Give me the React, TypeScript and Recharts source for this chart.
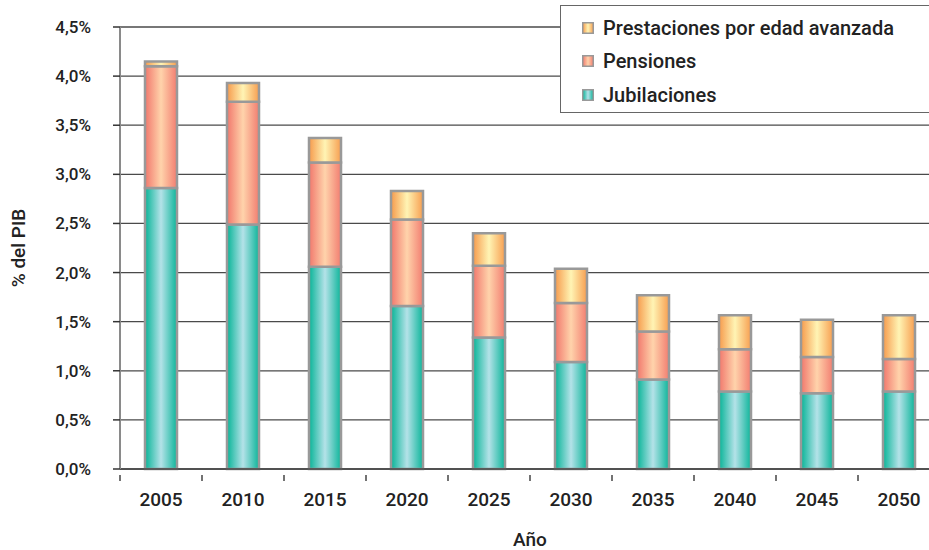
import { BarChart, Bar, XAxis, YAxis, CartesianGrid } from "recharts";

const years = ["2005", "2010", "2015", "2020", "2025", "2030", "2035", "2040", "2045", "2050"];
const jubilaciones = [2.86, 2.49, 2.06, 1.66, 1.34, 1.09, 0.91, 0.79, 0.77, 0.79];
const pensiones = [1.24, 1.25, 1.06, 0.88, 0.73, 0.6, 0.49, 0.43, 0.37, 0.33];
const prestaciones = [0.05, 0.19, 0.25, 0.29, 0.33, 0.35, 0.37, 0.345, 0.38, 0.445];
const yTicks = [0, 0.5, 1, 1.5, 2, 2.5, 3, 3.5, 4, 4.5];

const data = years.map((year, i) => ({
  year,
  jubilaciones: jubilaciones[i],
  pensiones: pensiones[i],
  prestaciones: prestaciones[i],
}));

const FONT = "Roboto, 'DejaVu Sans', sans-serif";
const CHART_W = 940;
const Y_AXIS_W = 120;
const BAND = (CHART_W - Y_AXIS_W) / years.length;

const legendItems = [
  { key: "prestaciones", name: "Prestaciones por edad avanzada", grad: "gradOrange" },
  { key: "pensiones", name: "Pensiones", grad: "gradPink" },
  { key: "jubilaciones", name: "Jubilaciones", grad: "gradTeal" },
];

const gradStops: Record<string, string[]> = {
  gradTeal: ["#06b497", "#b4e2e8", "#0cb59a"],
  gradPink: ["#f1776c", "#ffd3ab", "#f27d70"],
  gradOrange: ["#f69a4c", "#fff4b4", "#f79e50"],
};

const fmtPct = (v: number) => v.toFixed(1).replace(".", ",") + "%";

function YearTick(props: any) {
  const { x, y, payload } = props;
  return (
    <g>
      <line x1={x - BAND / 2} x2={x - BAND / 2} y1={y - 18} y2={y - 12} stroke="#444" strokeWidth={1.5} />
      <text x={x} y={y} dy="0.71em" textAnchor="middle" fontFamily={FONT} fontWeight={500} fontSize={19} fill="#222">
        {payload.value}
      </text>
    </g>
  );
}

function LegendBox() {
  return (
    <div
      style={{
        position: "absolute",
        left: 560,
        top: 5,
        border: "1px solid #666",
        background: "#fff",
        width: 400,
        height: 108,
        boxSizing: "border-box",
        padding: "5px 0 0 21px",
        fontFamily: FONT,
        fontWeight: 500,
        fontSize: 20,
        color: "#222",
      }}
    >
      {legendItems.map((it) => {
        const s = gradStops[it.grad];
        return (
          <div key={it.key} style={{ display: "flex", alignItems: "center", height: 33.5 }}>
            <svg width={12} height={12} style={{ marginRight: 9 }}>
              <defs>
                <linearGradient id={`${it.grad}L`} x1="0" y1="0" x2="1" y2="0">
                  <stop offset="0%" stopColor={s[0]} />
                  <stop offset="50%" stopColor={s[1]} />
                  <stop offset="100%" stopColor={s[2]} />
                </linearGradient>
              </defs>
              <rect x={0.75} y={0.75} width={10.5} height={10.5} fill={`url(#${it.grad}L)`} stroke="#999" strokeWidth={1.5} />
            </svg>
            <span>{it.name}</span>
          </div>
        );
      })}
    </div>
  );
}

function YLabel(props: any) {
  const vb = props.viewBox;
  const cx = 18;
  const cy = vb.y + vb.height / 2;
  return (
    <text
      x={cx}
      y={cy}
      transform={`rotate(-90 ${cx} ${cy})`}
      textAnchor="middle"
      dominantBaseline="central"
      fontFamily={FONT}
      fontWeight={500}
      fontSize={19}
      fill="#222"
    >
      % del PIB
    </text>
  );
}

export default function App() {
  return (
    <div style={{ position: "absolute", left: 0, top: 0, width: 929, height: 550, overflow: "hidden", background: "#fff" }}>
      <BarChart
        width={CHART_W}
        height={550}
        data={data}
        margin={{ top: 27, right: 0, left: 0, bottom: 0 }}
        barSize={32}
      >
        <defs>
          {Object.keys(gradStops).map((id) => (
            <linearGradient key={id} id={id} x1="0" y1="0" x2="1" y2="0">
              <stop offset="0%" stopColor={gradStops[id][0]} />
              <stop offset="50%" stopColor={gradStops[id][1]} />
              <stop offset="100%" stopColor={gradStops[id][2]} />
            </linearGradient>
          ))}
        </defs>
        <CartesianGrid vertical={false} stroke="#4a4a4a" strokeWidth={1.3} />
        <XAxis
          dataKey="year"
          height={81}
          axisLine={{ stroke: "#444", strokeWidth: 1.5 }}
          tickLine={false}
          tickMargin={18}
          tick={<YearTick />}
          interval={0}
          label={{
            value: "Año",
            position: "insideBottom",
            offset: 4,
            fontFamily: FONT,
            fontWeight: 500,
            fontSize: 19,
            fill: "#222",
          }}
        />
        <YAxis
          width={Y_AXIS_W}
          domain={[0, 4.5]}
          ticks={yTicks}
          tickFormatter={fmtPct}
          axisLine={{ stroke: "#8a8a8a", strokeWidth: 2 }}
          tickLine={{ stroke: "#333", strokeWidth: 1.5 }}
          tickSize={7}
          tickMargin={22}
          tick={{ fontFamily: FONT, fontWeight: 500, fontSize: 17, fill: "#222" }}
          label={<YLabel />}
        />
        <Bar dataKey="jubilaciones" name="Jubilaciones" stackId="a" fill="url(#gradTeal)" stroke="#999" strokeWidth={2.5} isAnimationActive={false} />
        <Bar dataKey="pensiones" name="Pensiones" stackId="a" fill="url(#gradPink)" stroke="#999" strokeWidth={2.5} isAnimationActive={false} />
        <Bar dataKey="prestaciones" name="Prestaciones por edad avanzada" stackId="a" fill="url(#gradOrange)" stroke="#999" strokeWidth={2.5} isAnimationActive={false} />
      </BarChart>
      <LegendBox />
    </div>
  );
}
